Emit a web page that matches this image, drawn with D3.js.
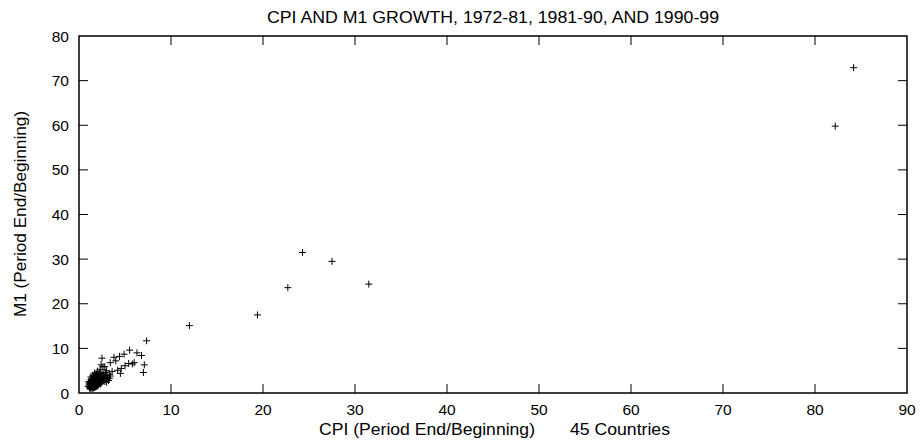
<!DOCTYPE html>
<html>
<head>
<meta charset="utf-8">
<script src="https://cdn.jsdelivr.net/npm/d3@7"></script>
<style>
  body { margin: 0; background: #fff; }
  text { font-family: "Liberation Sans", Arial, sans-serif; fill: #000; }
</style>
</head>
<body>
<svg width="922" height="442"></svg>
<script>
// CPI growth (x) and M1 growth (y), period end / beginning
var cpi = [
  84.2, 82.2, 24.3, 27.5, 31.5, 22.7, 19.4, 12.0,
  7.35, 5.5, 6.3, 6.8, 4.9, 4.4, 3.8, 2.5, 4.0, 3.4, 5.4, 5.8, 7.1, 7.0, 4.6, 4.2, 4.5,
  3.6, 3.0, 2.4, 2.8, 3.3, 2.7, 6.0, 5.0,
  1.2, 1.3, 1.4, 1.5, 1.3, 1.6, 1.7, 1.2, 1.4, 1.8, 1.9, 1.5, 1.6, 2.0, 2.1, 1.7, 1.3, 1.8,
  2.2, 2.3, 1.9, 2.4, 2.0, 1.1, 1.2, 1.5, 1.6, 1.4, 1.7, 1.9, 2.1, 2.2, 2.5, 2.6, 2.7, 2.4,
  1.3, 1.5, 1.6, 1.8, 2.0, 2.3, 1.1, 1.0, 1.4, 1.8, 2.1, 1.5, 1.7, 1.9, 2.2, 2.6, 2.8, 3.0,
  2.9, 3.2, 1.2, 1.6, 2.0, 1.3, 1.8, 2.4, 2.5, 2.2, 2.0, 1.7, 2.3, 2.6,
  1.25, 1.35, 1.45, 1.55, 1.65, 1.75, 1.85, 1.95, 2.05, 2.15, 1.45, 1.55, 1.15, 1.05, 1.25,
  2.35, 2.45, 1.35, 1.65, 1.75, 1.95, 2.25, 1.85, 2.05, 1.45, 1.6, 1.38, 1.72, 1.55, 2.7,
  3.1, 3.3, 3.0, 2.9, 3.4
];
var m1 = [
  72.9, 59.8, 31.5, 29.5, 24.4, 23.6, 17.5, 15.1,
  11.7, 9.6, 9.0, 8.4, 8.7, 8.2, 8.0, 7.8, 7.2, 6.8, 6.6, 6.5, 6.3, 4.6, 5.5, 5.1, 4.4,
  4.8, 5.0, 6.3, 5.9, 3.3, 3.8, 6.8, 6.1,
  1.3, 1.6, 1.2, 1.9, 2.1, 1.5, 2.3, 2.6, 2.8, 1.8, 2.6, 3.1, 2.5, 2.1, 3.0, 3.4, 3.6, 3.9,
  2.5, 3.4, 4.2, 4.6, 3.6, 1.8, 0.9, 1.0, 2.0, 2.4, 1.2, 1.5, 1.8, 2.9, 3.8, 2.8, 3.3, 2.2,
  3.0, 4.0, 3.7, 2.9, 2.7, 2.0, 2.2, 1.5, 1.5, 2.2, 2.4, 2.7, 2.8, 3.2, 3.7, 4.2, 2.6, 3.1,
  3.9, 2.8, 1.9, 1.3, 1.6, 1.1, 1.4, 3.1, 2.5, 4.4, 4.9, 4.5, 5.3, 5.9,
  1.45, 1.75, 2.05, 2.35, 1.65, 1.95, 2.45, 2.05, 2.55, 3.25, 3.35, 1.25, 1.15, 2.5, 2.35,
  2.65, 3.55, 2.55, 3.05, 2.55, 3.75, 3.05, 3.55, 4.05, 1.55, 1.8, 1.95, 2.15, 2.9, 4.0,
  3.5, 4.2, 2.4, 4.6, 3.8
];
var xTicks = [0, 10, 20, 30, 40, 50, 60, 70, 80, 90];
var yTicks = [0, 10, 20, 30, 40, 50, 60, 70, 80];

var svg = d3.select("svg");
var plotL = 79, plotR = 907, plotT = 36, plotB = 393;

var x = d3.scaleLinear().domain([0, 90]).range([plotL, plotR]);
var y = d3.scaleLinear().domain([0, 80]).range([plotB, plotT]);

var g = svg.append("g");

// inward ticks on all four sides
var tl = 9;
g.append("g").selectAll("line").data(xTicks.slice(1, -1)).enter().append("line")
  .attr("x1", function(d) { return x(d); }).attr("x2", function(d) { return x(d); })
  .attr("y1", plotB).attr("y2", plotB - tl)
  .attr("stroke", "#000");
g.append("g").selectAll("line").data(xTicks.slice(1, -1)).enter().append("line")
  .attr("x1", function(d) { return x(d); }).attr("x2", function(d) { return x(d); })
  .attr("y1", plotT).attr("y2", plotT + tl)
  .attr("stroke", "#000");
g.append("g").selectAll("line").data(yTicks.slice(1, -1)).enter().append("line")
  .attr("y1", function(d) { return y(d); }).attr("y2", function(d) { return y(d); })
  .attr("x1", plotL).attr("x2", plotL + tl)
  .attr("stroke", "#000");
g.append("g").selectAll("line").data(yTicks.slice(1, -1)).enter().append("line")
  .attr("y1", function(d) { return y(d); }).attr("y2", function(d) { return y(d); })
  .attr("x1", plotR).attr("x2", plotR - tl)
  .attr("stroke", "#000");

g.append("rect")
  .attr("x", plotL).attr("y", plotT)
  .attr("width", plotR - plotL).attr("height", plotB - plotT)
  .attr("fill", "none").attr("stroke", "#000").attr("stroke-width", 1.5);

// tick labels
g.append("g").selectAll("text").data(xTicks).enter().append("text")
  .attr("x", function(d) { return x(d); })
  .attr("y", 415)
  .attr("text-anchor", "middle")
  .style("font-size", "15.5px")
  .text(function(d) { return d; });
g.append("g").selectAll("text").data(yTicks).enter().append("text")
  .attr("x", 69)
  .attr("y", function(d) { return y(d) + 5.5; })
  .attr("text-anchor", "end")
  .style("font-size", "15.5px")
  .text(function(d) { return d; });

// points as "+" marks
var pts = cpi.map(function(d, i) { return [d, m1[i]]; });
var s = 3.5;
g.append("g").selectAll("path").data(pts).enter().append("path")
  .attr("d", function(d) {
    var px = x(d[0]), py = y(d[1]);
    return "M" + (px - s) + "," + py + "H" + (px + s) + "M" + px + "," + (py - s) + "V" + (py + s);
  })
  .attr("stroke", "#000").attr("stroke-width", 1).attr("fill", "none");

// titles
svg.append("text").attr("x", 493).attr("y", 23)
  .attr("text-anchor", "middle").style("font-size", "16px")
  .attr("textLength", 452).attr("lengthAdjust", "spacingAndGlyphs")
  .text("CPI AND M1 GROWTH, 1972-81, 1981-90, AND 1990-99");
svg.append("text").attr("x", 427).attr("y", 435)
  .attr("text-anchor", "middle").style("font-size", "16px")
  .attr("textLength", 216).attr("lengthAdjust", "spacingAndGlyphs")
  .text("CPI (Period End/Beginning)");
svg.append("text").attr("x", 620).attr("y", 435)
  .attr("text-anchor", "middle").style("font-size", "16px")
  .attr("textLength", 100).attr("lengthAdjust", "spacingAndGlyphs")
  .text("45 Countries");
svg.append("text")
  .attr("transform", "translate(26,214) rotate(-90)")
  .attr("text-anchor", "middle").style("font-size", "16px")
  .attr("textLength", 206).attr("lengthAdjust", "spacingAndGlyphs")
  .text("M1 (Period End/Beginning)");
</script>
</body>
</html>
